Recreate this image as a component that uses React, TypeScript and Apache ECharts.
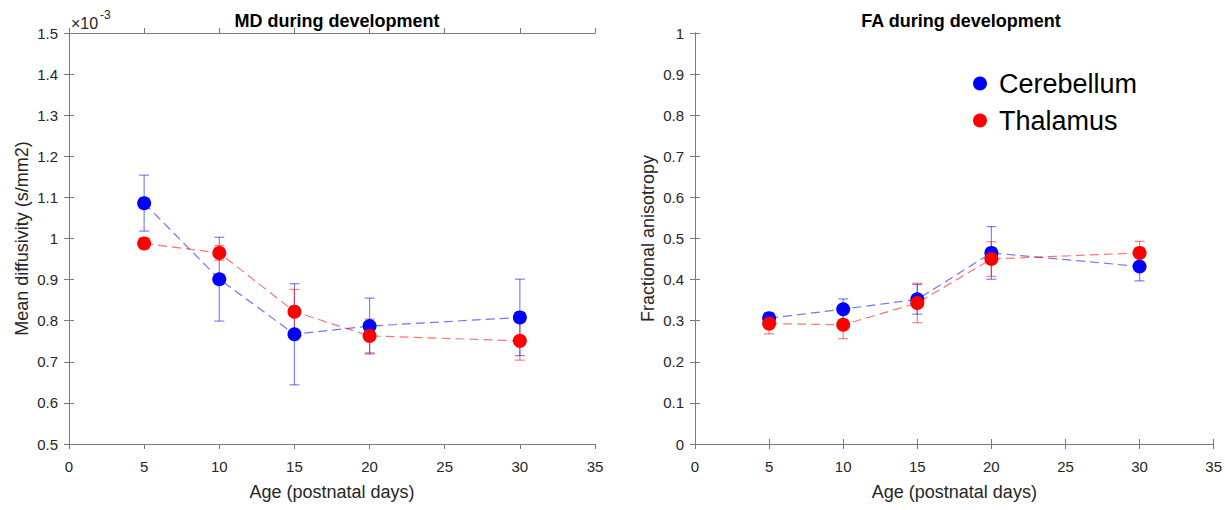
import React, { useEffect, useRef } from "react";
import * as echarts from "echarts";

const ages = [5, 10, 15, 20, 30];
// MD values (x 1e-3 s/mm2)
const mdCerebellum = [1.086, 0.901, 0.767, 0.787, 0.808];
const mdCerebellumErr = [0.068, 0.102, 0.123, 0.068, 0.093];
const mdThalamus = [0.988, 0.965, 0.822, 0.763, 0.751];
const mdThalamusErr = [0.013, 0.018, 0.054, 0.041, 0.047];
// FA values
const faCerebellum = [0.306, 0.328, 0.352, 0.465, 0.432];
const faCerebellumErr = [0.013, 0.025, 0.036, 0.064, 0.035];
const faThalamus = [0.293, 0.29, 0.343, 0.45, 0.465];
const faThalamusErr = [0.025, 0.034, 0.048, 0.042, 0.028];

const seriesNames = ["Cerebellum", "Thalamus"];
const xTicks = [0, 5, 10, 15, 20, 25, 30, 35];

const FONT = "Liberation Sans, Arial, Helvetica, sans-serif";
const AXIS_COLOR = "#7a7a7a";
const TEXT_COLOR = "#262626";
const BLUE = "#0000ff";
const RED = "#ff0000";

function errData(xs: number[], ys: number[], es: number[]) {
  return xs.map((x, i) => [x, ys[i] - es[i], ys[i] + es[i]]);
}
function ptData(xs: number[], ys: number[]) {
  return xs.map((x, i) => [x, ys[i]]);
}

function errSeries(name: string, idx: number, data: number[][], color: string) {
  return {
    name: name + " error",
    type: "custom",
    xAxisIndex: idx,
    yAxisIndex: idx,
    data,
    encode: { x: 0, y: [1, 2] },
    renderItem: (params: any, api: any) => {
      const x = api.value(0);
      const lo = api.value(1);
      const hi = api.value(2);
      const p1 = api.coord([x, hi]);
      const p2 = api.coord([x, lo]);
      const w = 5;
      const style = { stroke: color, lineWidth: 1.2, opacity: 0.5 };
      return {
        type: "group",
        children: [
          { type: "line", shape: { x1: p1[0], y1: p1[1], x2: p2[0], y2: p2[1] }, style },
          { type: "line", shape: { x1: p1[0] - w, y1: p1[1], x2: p1[0] + w, y2: p1[1] }, style },
          { type: "line", shape: { x1: p2[0] - w, y1: p2[1], x2: p2[0] + w, y2: p2[1] }, style },
        ],
      };
    },
  };
}

function lineSeries(name: string, idx: number, data: number[][], color: string) {
  return {
    name,
    type: "line",
    xAxisIndex: idx,
    yAxisIndex: idx,
    data,
    symbol: "circle",
    symbolSize: 14,
    itemStyle: { color, opacity: 1 },
    lineStyle: { color, width: 1.2, type: [9, 5], opacity: 0.55 },
  };
}

function xAxes(gridIndex: number) {
  const common = {
    type: "value",
    gridIndex,
    min: 0,
    max: 35,
    interval: 5,
    splitLine: { show: false },
    axisLine: { show: true, lineStyle: { color: AXIS_COLOR, width: 1 } },
    axisTick: { show: true, inside: false, length: 5, lineStyle: { color: AXIS_COLOR } },
  };
  return [
    {
      ...common,
      position: "bottom",
      name: "Age (postnatal days)",
      nameLocation: "middle",
      nameGap: 39,
      nameTextStyle: { fontSize: 18, color: TEXT_COLOR, fontFamily: FONT },
      axisLabel: {
        show: true,
        fontSize: 15,
        color: TEXT_COLOR,
        fontFamily: FONT,
        margin: 15,
        formatter: (v: number) => (xTicks.includes(v) ? String(v) : ""),
      },
    },
    { ...common, position: "top", axisLabel: { show: false } },
  ];
}

function yAxes(gridIndex: number, min: number, max: number, name: string, fmt: (v: number) => string) {
  const common = {
    type: "value",
    gridIndex,
    min,
    max,
    interval: 0.1,
    splitLine: { show: false },
    axisLine: { show: true, lineStyle: { color: AXIS_COLOR, width: 1 } },
    axisTick: { show: true, inside: false, length: 5, lineStyle: { color: AXIS_COLOR } },
  };
  return [
    {
      ...common,
      position: "left",
      name,
      nameLocation: "middle",
      nameGap: 38,
      nameRotate: 90,
      nameTextStyle: { fontSize: 18, color: TEXT_COLOR, fontFamily: FONT },
      axisLabel: { show: true, fontSize: 15, color: TEXT_COLOR, fontFamily: FONT, margin: 11, formatter: fmt },
    },
    { ...common, position: "right", axisLabel: { show: false } },
  ];
}

const fmtNum = (v: number) => {
  const r = Math.round(v * 10) / 10;
  return r === Math.round(r) ? String(Math.round(r)) : r.toFixed(1);
};

export default function App() {
  const ref = useRef<HTMLDivElement>(null);
  useEffect(() => {
    if (!ref.current) return;
    const chart = echarts.init(ref.current, undefined, { renderer: "svg" });
    const xa = [...xAxes(0), ...xAxes(1)];
    const ya = [
      ...yAxes(0, 0.5, 1.5, "Mean diffusivity (s/mm2)", fmtNum),
      ...yAxes(1, 0, 1, "Fractional anisotropy", fmtNum),
    ];
    chart.setOption({
      animation: false,
      backgroundColor: "#ffffff",
      textStyle: { fontFamily: FONT },
      title: [
        {
          text: "MD during development",
          left: 332,
          top: 7,
          textAlign: "center",
          textStyle: { fontSize: 18, fontWeight: "bold", color: "#000", fontFamily: FONT },
        },
        {
          text: "FA during development",
          left: 956,
          top: 7,
          textAlign: "center",
          textStyle: { fontSize: 18, fontWeight: "bold", color: "#000", fontFamily: FONT },
        },
      ],
      legend: {
        data: seriesNames,
        left: 968,
        top: 65,
        orient: "vertical",
        icon: "circle",
        itemWidth: 28,
        itemHeight: 14,
        itemGap: 10,
        textStyle: { fontSize: 27, color: "#000", fontFamily: FONT },
        selectedMode: false,
      },
      grid: [
        { left: 69, top: 33, width: 526, height: 411 },
        { left: 695, top: 33, width: 521, height: 411 },
      ],
      xAxis: xa,
      yAxis: ya,
      graphic: [
        { type: "text", left: 71, top: 15, style: { text: "×10", fontSize: 16, fill: TEXT_COLOR, fontFamily: FONT } },
        { type: "text", left: 100, top: 9, style: { text: "-3", fontSize: 12, fill: TEXT_COLOR, fontFamily: FONT } },
      ],
      series: [
        errSeries("Cerebellum", 0, errData(ages, mdCerebellum, mdCerebellumErr), BLUE),
        lineSeries("Cerebellum", 0, ptData(ages, mdCerebellum), BLUE),
        errSeries("Thalamus", 0, errData(ages, mdThalamus, mdThalamusErr), RED),
        lineSeries("Thalamus", 0, ptData(ages, mdThalamus), RED),
        errSeries("Cerebellum", 2, errData(ages, faCerebellum, faCerebellumErr), BLUE),
        lineSeries("Cerebellum", 2, ptData(ages, faCerebellum), BLUE),
        errSeries("Thalamus", 2, errData(ages, faThalamus, faThalamusErr), RED),
        lineSeries("Thalamus", 2, ptData(ages, faThalamus), RED),
      ],
    });
    return () => chart.dispose();
  }, []);
  return (
    <div
      ref={ref}
      style={{ position: "fixed", left: 0, top: 0, width: 1225, height: 510, background: "#fff" }}
    />
  );
}
